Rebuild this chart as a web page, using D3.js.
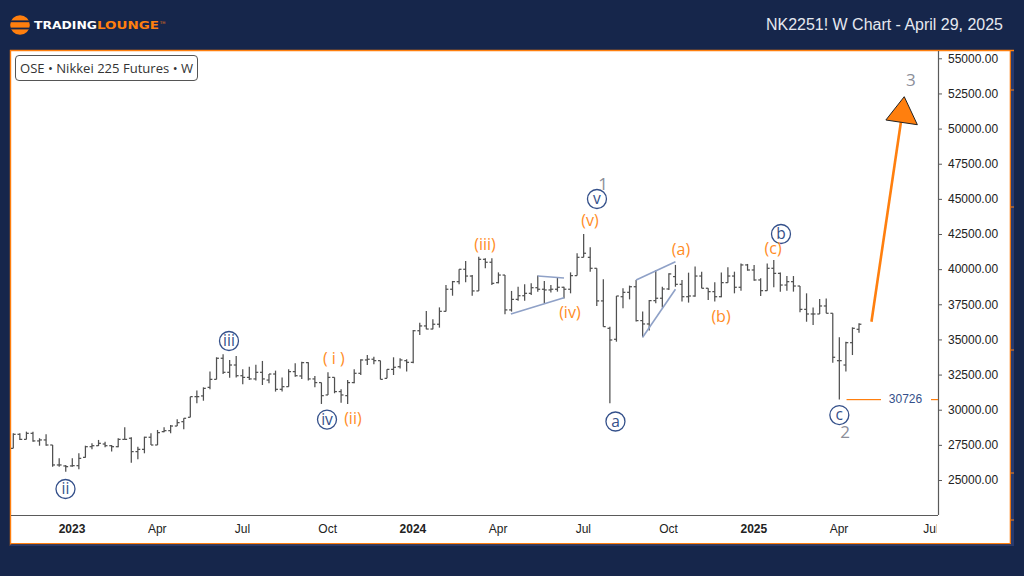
<!DOCTYPE html>
<html><head><meta charset="utf-8">
<script src="https://cdnjs.cloudflare.com/ajax/libs/d3/7.8.5/d3.min.js"></script>
<style>html,body{margin:0;padding:0;background:#16264b;overflow:hidden}svg{display:block}</style>
</head><body><div id="c"></div>
<script>
const title = "NK2251! W Chart - April 29, 2025";
const legendText = "OSE • Nikkei 225 Futures • W";
const priceTicks = [55000,52500,50000,47500,45000,42500,40000,37500,35000,32500,30000,27500,25000];
const timeTickIdx = [9,22,35,48,61,74,87,100,113,126,140];
const timeTickLabels = ["2023","Apr","Jul","Oct","2024","Apr","Jul","Oct","2025","Apr","Jul"];
const boldTicks = ["2023","2024","2025"];

const opens = [27250,28250,27890,28320,27780,27850,27490,26070,26000,26000,
26020,26610,27370,27440,27560,27440,27370,27890,27970,27020,
27180,28040,27490,28440,28510,28840,29150,29460,30930,30980,
31590,32160,33660,32660,33180,32420,32300,32190,32660,32110,
32540,31450,31640,32710,32400,33350,32190,31930,31050,32300,
31290,31000,31930,32590,33540,33590,33490,32230,32870,33060,
33490,33370,35620,35960,35740,36080,37000,38570,39110,39990,
39510,38450,40700,40490,39040,39580,37100,37850,38110,38280,
38680,38570,38520,38570,38710,38570,39540,40840,40840,40060,
37740,35790,35010,38040,38350,38750,36340,36100,37760,37930,
38590,39470,38920,38040,38090,39510,38640,38400,38040,39040,
39510,38710,40300,39940,39230,38470,40060,39700,38870,39110,
38800,37140,36810,36810,37380,36860,33490,33180,34770,35720];
const highs = [28320,28320,28440,28440,27970,28250,27490,26540,26070,26540,
26900,27440,27610,27850,27730,27490,27970,28750,28040,27370,
28080,28320,28560,28750,28910,29320,29390,30930,31360,31590,
32710,33730,33940,33540,33820,32870,33060,33200,33470,32540,
32780,32300,32870,33300,33420,33370,32400,31930,32660,32300,
31450,32110,32870,33590,33890,33770,33490,32870,33730,33660,
33590,35670,36190,37020,36430,37280,38870,39160,39990,40580,
39580,40890,40770,40770,39770,39580,38450,38750,38920,38990,
39540,39160,38870,39390,38750,39770,41130,42500,41550,40060,
39280,35910,38090,38640,38830,39230,36980,37810,39940,38750,
39700,40300,39230,39750,40180,39820,38640,39060,39770,40130,
39820,40410,40370,40300,39350,40410,40650,39770,39510,39510,
38800,38280,37280,37880,37920,36860,35150,34840,35860,36150];
const lows = [27250,27850,27890,27730,27440,27440,25950,25950,25590,25950,
25760,26590,27180,27420,27330,27020,27330,27890,26230,26470,
26900,27490,27490,28390,28320,28840,28610,29460,30460,30640,
31450,32160,32540,32280,32300,31810,32110,32070,31760,31880,
31290,31290,31640,32350,32190,32070,31590,30410,31050,31170,
30500,30410,31880,32470,33180,33230,32160,32230,32470,32940,
32710,33300,35320,35720,35720,35840,36980,38110,38920,39060,
38110,38450,40060,38870,38990,36790,36980,37760,37760,38160,
38400,37570,38330,38400,37920,38280,39540,40840,39820,37380,
35910,30460,34840,37210,37850,36270,35150,35630,37570,37280,
38520,38750,37690,37620,38040,38640,37810,37690,38000,39040,
38280,38470,39890,39180,38090,38470,38710,38400,38470,38400,
36930,36260,36030,36810,36860,33350,30730,32710,33890,35480];
const closes = [28250,27890,28320,27780,27850,27490,26070,26070,25950,26020,
26540,27370,27440,27610,27440,27370,27890,27890,27020,27180,
28040,27490,28370,28510,28840,29080,29390,30930,30930,31520,
32160,33660,32660,33180,32420,32300,32190,32660,32190,32540,
31450,31640,32710,32420,33350,32190,31930,31000,32300,31290,
31050,31930,32590,33540,33590,33490,32160,32870,33020,33540,
33370,35620,35960,35740,36080,37000,38570,39110,39990,39510,
38450,40700,40490,38990,39580,37100,37850,38110,38280,38680,
38570,38520,38570,38710,38570,39540,40840,41130,40060,37740,
35910,34960,38090,38350,38750,36340,36100,37760,37930,38590,
39660,38920,38040,38090,39510,38640,38400,38040,39040,39510,
38710,40300,39940,39230,38470,40060,39700,38870,39110,38800,
37140,36810,36810,37380,36860,33730,33490,34770,35790,36080];

const stopLevel = 30726;
const stopStartIdx = 127.1;
// wave labels: [text, bar index, price]
const circledLabels = [["ii",7.96,24360],["iii",32.9,34890],["iv",47.85,29300],["v",89.03,44990],["a",91.85,29160],["b",117.1,42500],["c",126.0,29620]];
const orangeLabels = [["( i )",48.9,33680],["(ii)",51.8,29410],["(iii)",71.95,41790],["(iv)",84.9,36950],["(v)",87.96,43500],["(a)",101.85,41430],["(b)",107.95,36670],["(c)",115.9,41500]];
const greyLabels = [["1",89.95,46060],["2",126.9,28410],["3",136.9,53460]];
// trend lines: [idx1, price1, idx2, price2]
const trendLines = [[75.9,36810,84,37970],[80,39510,84,39370],[95,39230,101,40530],[96,35150,101,38570]];
const arrowShaft = [[130.9,36260],[135.4,50490]];
const arrowHead = [[135.9,52268],[133.1,50610],[137.9,50275]];

const NAVY="#16264b", ORANGE="#ff7f0e", INK="#34508a", BAR="#505050", AXIS="#5a5a5a";
const svg = d3.select("#c").append("svg").attr("width",1024).attr("height",576);

const x = d3.scaleLinear().domain([0,129]).range([13.3,859]);
const y = d3.scaleLinear().domain([25000,55000]).range([480,58.3]);
const paneL=11, paneT=51, paneR=938, paneB=515, frameR=1010, frameB=543;

// frame
svg.append("rect").attr("x",1011).attr("y",50).attr("width",3).attr("height",496).attr("fill","#2a3a6c");
svg.append("rect").attr("x",paneL).attr("y",paneT).attr("width",frameR-paneL).attr("height",frameB-paneT).attr("fill","#fff");
svg.append("path").attr("d",`M10.5,546 V50.5 H1014`).attr("fill","none").attr("stroke",ORANGE).attr("stroke-width",1.4);
svg.append("path").attr("d",`M1010.3,50 V544 M10,543.7 H1011`).attr("fill","none").attr("stroke",ORANGE).attr("stroke-width",1.2);
svg.append("rect").attr("x",10).attr("y",544.5).attr("width",1004).attr("height",1.5).attr("fill","#2a3a6c");
[90,207,350,473,520].forEach(v=>svg.append("line").attr("x1",1011).attr("x2",1014).attr("y1",v).attr("y2",v).attr("stroke",ORANGE).attr("stroke-width",1));

// header
const logo = svg.append("g");
logo.append("circle").attr("cx",20).attr("cy",25).attr("r",9.8).attr("fill",ORANGE);
logo.append("rect").attr("x",10).attr("y",20.4).attr("width",20).attr("height",1.8).attr("fill",NAVY);
logo.append("rect").attr("x",10).attr("y",27.6).attr("width",20).attr("height",1.8).attr("fill",NAVY);
logo.append("text").attr("x",34).attr("y",29).attr("font-family","DejaVu Sans").attr("font-weight",700).attr("font-size",10)
  .attr("textLength",63).attr("lengthAdjust","spacingAndGlyphs").attr("fill","#fff").text("TRADING");
logo.append("text").attr("x",97).attr("y",29).attr("font-family","DejaVu Sans").attr("font-weight",700).attr("font-size",10)
  .attr("textLength",62).attr("lengthAdjust","spacingAndGlyphs").attr("fill",ORANGE).text("LOUNGE");
logo.append("text").attr("x",160).attr("y",24).attr("font-family","DejaVu Sans").attr("font-size",3.5).attr("fill",ORANGE).text("TM");
svg.append("text").attr("x",1003).attr("y",29.5).attr("text-anchor","end").attr("font-family","Liberation Sans")
  .attr("font-size",16).attr("fill","#e6e9f0").attr("textLength",237).attr("lengthAdjust","spacingAndGlyphs").text(title);

// clips
const defs=svg.append("defs");
defs.append("clipPath").attr("id","pane").append("rect").attr("x",paneL).attr("y",paneT).attr("width",paneR-paneL).attr("height",paneB-paneT);

// axes
const yAxis = svg.append("g").attr("transform",`translate(${paneR},0)`)
  .call(d3.axisRight(y).tickValues(priceTicks).tickFormat(d3.format(".2f")).tickSize(4).tickPadding(6));
yAxis.select(".domain").attr("d",`M0.5,${paneT} V${paneB}`).attr("stroke",AXIS).attr("stroke-width",1.2);
yAxis.selectAll(".tick line").attr("stroke",AXIS);
yAxis.selectAll("text").attr("font-family","Liberation Sans").attr("font-size",12).attr("fill","#222");

const xAxis = svg.append("g").attr("transform",`translate(-0.8,${paneB})`)
  .call(d3.axisBottom(x).tickValues(timeTickIdx).tickFormat((d,i)=>timeTickLabels[i]).tickSize(0).tickPadding(9));
xAxis.select(".domain").attr("d",`M${paneL+0.8},0.5 H${paneR+0.8}`).attr("stroke",AXIS).attr("stroke-width",1.2);
xAxis.selectAll("text").attr("font-family","Liberation Sans").attr("font-size",12).attr("fill","#222")
  .attr("font-weight",d=>boldTicks.includes(timeTickLabels[timeTickIdx.indexOf(d)])?700:400);
// the last label is cut by the pane's right edge
svg.append("rect").attr("x",paneR-1.5).attr("y",paneB+2).attr("width",14).attr("height",26).attr("fill","#fff");

// bars
const idx = d3.range(opens.length);
const pane = svg.append("g").attr("clip-path","url(#pane)");
const bars = pane.selectAll("g.bar").data(idx).join("g").attr("class","bar").attr("stroke",BAR).attr("stroke-width",1.25);
bars.append("line").attr("x1",d=>x(d)).attr("x2",d=>x(d)).attr("y1",d=>y(highs[d])).attr("y2",d=>y(lows[d]));
bars.append("line").attr("x1",d=>x(d)-2.4).attr("x2",d=>x(d)).attr("y1",d=>y(opens[d])).attr("y2",d=>y(opens[d]));
bars.append("line").attr("x1",d=>x(d)).attr("x2",d=>x(d)+2.4).attr("y1",d=>y(closes[d])).attr("y2",d=>y(closes[d]));

// trend lines
pane.selectAll("line.tl").data(trendLines).join("line").attr("class","tl")
  .attr("x1",d=>x(d[0])).attr("y1",d=>y(d[1])).attr("x2",d=>x(d[2])).attr("y2",d=>y(d[3]))
  .attr("stroke","#8fa1c7").attr("stroke-width",1.6);

// stop level
pane.append("rect").attr("x",x(stopStartIdx)).attr("y",Math.round(y(stopLevel))-1).attr("width",paneR-x(stopStartIdx)).attr("height",1.2).attr("fill",ORANGE);
pane.append("rect").attr("x",881).attr("y",y(stopLevel)-8).attr("width",50).attr("height",16).attr("fill","#fff");
pane.append("text").attr("x",905.5).attr("y",y(stopLevel)+3.3).attr("text-anchor","middle").attr("font-family","Liberation Sans")
  .attr("font-size",12).attr("fill",INK).text(stopLevel);

// arrow
pane.append("line").attr("x1",x(arrowShaft[0][0])).attr("y1",y(arrowShaft[0][1])).attr("x2",x(arrowShaft[1][0])).attr("y2",y(arrowShaft[1][1]))
  .attr("stroke",ORANGE).attr("stroke-width",2.6);
pane.append("polygon").attr("points",arrowHead.map(p=>[x(p[0]),y(p[1])].join(",")).join(" "))
  .attr("fill",ORANGE).attr("stroke","#222").attr("stroke-width",1).attr("stroke-linejoin","round");

// labels
const lf="Open Sans";
const circ = pane.selectAll("g.circ").data(circledLabels).join("g").attr("class","circ")
  .attr("transform",d=>`translate(${x(d[1])},${y(d[2])})`);
circ.append("circle").attr("r",9.5).attr("fill","#fff").attr("stroke",INK).attr("stroke-width",1.3);
circ.append("text").attr("text-anchor","middle").attr("dy","0.35em").attr("font-family",lf).attr("font-size",15.5).attr("fill",INK).text(d=>d[0]);
pane.selectAll("text.or").data(orangeLabels).join("text").attr("class","or")
  .attr("x",d=>x(d[1])).attr("y",d=>y(d[2])).attr("dy","0.35em").attr("text-anchor","middle")
  .attr("font-family",lf).attr("font-size",16).attr("fill","#ff8c1f").text(d=>d[0]);
pane.selectAll("text.gr").data(greyLabels).join("text").attr("class","gr")
  .attr("x",d=>x(d[1])).attr("y",d=>y(d[2])).attr("dy","0.35em").attr("text-anchor","middle")
  .attr("font-family",lf).attr("font-size",17).attr("fill","#8b8e99").text(d=>d[0]);

// legend
svg.append("rect").attr("x",15.5).attr("y",55.5).attr("width",182).attr("height",25).attr("rx",3.5).attr("fill","#fff").attr("stroke","#555").attr("stroke-width",1);
svg.append("text").attr("x",20).attr("y",72.5).attr("font-family",lf).attr("font-size",13).attr("fill","#333")
  .attr("textLength",173).attr("lengthAdjust","spacingAndGlyphs").text(legendText);
</script></body></html>
